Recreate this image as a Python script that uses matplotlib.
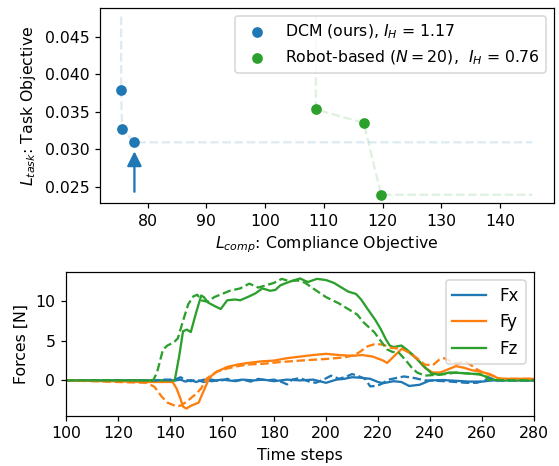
import matplotlib
matplotlib.use("Agg")
import matplotlib.pyplot as plt

plt.rcParams["font.size"] = 10.3

# --- top: objective space ---
dcm_comp = [75.5, 75.65, 77.76]
dcm_task = [0.0379, 0.0327, 0.0309]
robot_comp = [108.64, 116.8, 119.76]
robot_task = [0.0353, 0.0335, 0.0239]
ref_comp = 145.5
ref_task = 0.0477

# --- bottom: force profiles (solid = DCM, dashed = reference) ---
fx_t = [100, 142, 144, 146, 148, 150, 153, 156, 160, 164, 168, 172, 176, 180, 185, 190, 195, 200,
        204, 207, 210, 213, 217, 220, 222, 226, 229, 232, 236, 240, 245, 250, 255, 260, 264, 280]
fx = [0, 0, 0.1, -0.15, 0.05, -0.2, 0.1, -0.1, 0.1, -0.05, 0.1, 0, 0.1, -0.1, 0.1, 0, 0.1, -0.3,
      0.1, 0.2, 0.4, 0.35, 0.2, -0.2, -0.35, -0.1, -0.2, -0.7, -0.55, 0, 0.05, -0.05, -0.15, -0.15, 0, 0]
fx_ref_t = [100, 134, 138, 142, 144, 146, 148, 150, 153, 156, 159, 162, 165, 168, 171, 174, 177, 180,
            183, 185, 187, 190, 193, 196, 199, 202, 205, 208, 210, 212, 215, 217, 219, 221, 224, 227,
            230, 234, 238, 242, 246, 250, 254, 258, 261, 263, 265, 280]
fx_ref = [0, 0, 0.1, 0.1, 0.4, 0.1, -0.1, 0.1, -0.2, 0.1, -0.1, 0.2, -0.1, 0.1, -0.15, 0.2, 0, 0.1,
          -0.2, -0.5, 0.1, 0.3, -0.1, -0.3, 0.1, 0.6, 0.2, 0.5, 0.8, 0.6, 0.2, -0.75, -0.7, -0.5, 0.1, 0.3,
          0.5, 0.3, 0, -0.05, -0.1, -0.2, -0.3, -0.3, 0, 0.3, 0, 0]

fy_t = [100, 110, 120, 130, 141, 142.5, 144, 145, 146.3, 148, 151, 152.7, 154.7, 156, 158, 162, 166, 170,
        175, 180, 185, 190, 195, 200, 205, 210, 214, 218, 222, 223.5, 226, 229.5, 232, 235, 238, 241,
        244, 247, 250, 253, 256, 260, 263, 266, 268, 280]
fy = [0, -0.05, -0.1, -0.2, -0.2, -1.0, -2.3, -3.3, -3.55, -3.2, -2.8, -1.5, 0, 0.6, 1.1, 1.7, 2.0, 2.2,
      2.4, 2.5, 2.8, 3.0, 3.2, 3.35, 3.2, 3.1, 3.2, 3.0, 2.5, 2.2, 3.0, 4.1, 3.5, 2.7, 1.6, 1.0,
      1.0, 1.4, 1.8, 1.6, 1.3, 1.05, 0.8, 0.3, 0.2, 0.2]
fy_ref_t = [100, 115, 125, 131, 134, 136.7, 139, 142, 144, 146.3, 150, 152, 154, 156, 158, 162, 166, 170,
            176, 182, 190, 200, 207, 211, 213, 216, 219, 222, 225, 229, 232, 235, 238, 241, 243.5, 245.5,
            248, 250.5, 253, 255, 258, 261, 264, 267, 280]
fy_ref = [0, -0.15, -0.25, -0.3, -0.8, -2.0, -2.8, -3.2, -3.2, -2.7, -1.7, -1.0, 0.2, 0.7, 1.1, 1.5, 1.8, 2.0,
          2.1, 2.3, 2.5, 2.7, 2.9, 3.2, 3.6, 4.3, 4.6, 4.5, 4.1, 4.0, 3.5, 2.8, 2.0, 1.9, 2.6, 2.8,
          2.4, 2.1, 2.4, 2.1, 1.4, 0.9, 0.6, 0.2, 0.2]

fz_t = [100, 141.8, 143.5, 145, 146.5, 148, 150, 152, 153, 154.7, 157, 159.5, 162, 165, 167, 170.5, 173,
        175.5, 178.5, 180.5, 182.5, 186.5, 190, 193, 196.5, 200, 203, 205, 208.5, 211.5, 213.5, 216, 219,
        221, 223, 224.5, 226, 229, 231, 233.5, 237, 240.5, 243.5, 247.5, 254, 259, 262.5, 265, 280]
fz = [0, 0, 3.0, 6.2, 6.4, 6.1, 8.5, 10.7, 10.5, 9.8, 9.4, 9.0, 10.1, 10.2, 10.1, 10.6, 11.0,
      11.6, 11.3, 11.4, 12.0, 12.5, 12.85, 12.4, 12.8, 12.65, 12.3, 11.9, 11.2, 10.9, 10.2, 9.0, 7.6,
      6.5, 5.2, 4.4, 4.2, 4.4, 3.9, 3.2, 2.0, 0.9, 0.7, 1.0, 0.9, 0.75, 0.4, 0.05, 0]
fz_ref_t = [100, 133.5, 135, 137.3, 139, 141.5, 143, 145, 147, 149, 150.5, 152, 154.5, 157, 160, 163, 167,
            170.5, 174, 177, 180, 183, 186, 189, 192, 195, 200, 205, 209.5, 212, 214.5, 218.5, 221, 223.5,
            225.5, 228, 231, 233, 235, 238, 242, 246, 250, 255, 259, 261, 262.5, 280]
fz_ref = [0, 0, 1.0, 3.9, 4.4, 4.8, 5.3, 7.5, 9.6, 10.6, 10.8, 10.1, 9.9, 10.5, 10.9, 11.3, 11.6,
          12.2, 11.7, 12.0, 12.3, 12.8, 12.5, 12.6, 12.3, 11.6, 10.5, 9.7, 8.8, 8.3, 7.3, 6.1, 5.0, 3.9,
          3.6, 3.5, 2.4, 1.6, 1.0, 0.6, 0.7, 0.8, 1.0, 0.85, 0.8, 0.6, 0.05, 0]

fig = plt.figure(figsize=(559 / 110, 466 / 110), dpi=110)

# top panel
ax1 = fig.add_axes([0.1789, 0.5644, 0.8122, 0.4178])
front_b_x = [dcm_comp[0]] + dcm_comp + [ref_comp]
front_b_y = [ref_task] + dcm_task + [dcm_task[-1]]
front_g_x = [robot_comp[0]] + robot_comp + [ref_comp]
front_g_y = [ref_task] + robot_task + [robot_task[-1]]
ax1.plot(front_b_x, front_b_y, "--", color="C0", alpha=0.15)
ax1.plot(front_g_x, front_g_y, "--", color="C2", alpha=0.15)
ax1.scatter(dcm_comp, dcm_task, color="C0", label="DCM (ours), $I_H$ = 1.17")
ax1.scatter(robot_comp, robot_task, color="C2", label="Robot-based ($N=20$),  $I_H$ = 0.76")
ax1.annotate("", xy=(dcm_comp[-1], 0.0297), xytext=(dcm_comp[-1], 0.0243),
             arrowprops=dict(arrowstyle="-|>", color="C0", lw=1.5, mutation_scale=20,
                             shrinkA=0, shrinkB=0))
ax1.set_xlim(71.9, 149.2)
ax1.set_ylim(0.0228, 0.0488)
ax1.set_yticks([0.025, 0.030, 0.035, 0.040, 0.045])
ax1.set_xlabel("$L_{comp}$: Compliance Objective")
ax1.set_ylabel("$L_{task}$: Task Objective")
ax1.legend(loc="upper right")

# bottom panel
ax2 = fig.add_axes([0.1181, 0.1079, 0.8372, 0.3090])
ax2.plot(fx_t, fx, color="C0", label="Fx")
ax2.plot(fy_t, fy, color="C1", label="Fy")
ax2.plot(fz_t, fz, color="C2", label="Fz")
ax2.plot(fx_ref_t, fx_ref, "--", color="C0")
ax2.plot(fy_ref_t, fy_ref, "--", color="C1")
ax2.plot(fz_ref_t, fz_ref, "--", color="C2")
ax2.set_xlim(100, 280)
ax2.set_ylim(-4.45, 13.7)
ax2.set_xticks(range(100, 281, 20))
ax2.set_yticks([0, 5, 10])
ax2.set_xlabel("Time steps")
ax2.set_ylabel("Forces [N]")
ax2.legend(loc="upper right", fontsize=11)

fig.savefig("out.png", dpi=110)
